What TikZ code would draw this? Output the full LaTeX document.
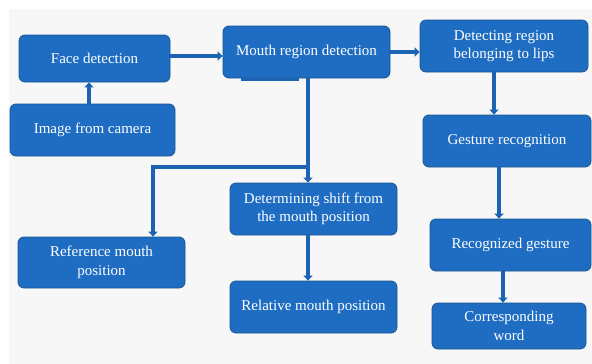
\documentclass[tikz,border=0pt]{standalone}
\usepackage{fontspec}
\setmainfont{Liberation Serif}
\usetikzlibrary{arrows.meta}
\definecolor{boxfill}{HTML}{1E6DC2}
\definecolor{boxline}{HTML}{1A558F}
\definecolor{arrowblue}{HTML}{1B64B3}
\definecolor{paper}{HTML}{F7F7F7}
\begin{document}
\begin{tikzpicture}[x=1pt,y=-1pt,
  stepbox/.style={draw=boxline, line width=0.8pt, fill=boxfill, rounded corners=6pt,
    text=white, align=center, inner sep=2pt,
    font=\fontsize{15}{18.5}\selectfont},
  flow/.style={draw=arrowblue, line width=3.6pt,
    -{Triangle[width=9pt,length=5pt]}}]
  % page and paper background
  \useasboundingbox (0,0) rectangle (592,364);
  \fill[white] (0,0) rectangle (592,364);
  \fill[paper] (9,9) rectangle (592,364);

  % process boxes
  \node[stepbox, minimum width=151pt, minimum height=47pt] (face) at (94.5,58.5) {Face detection};
  \node[stepbox, minimum width=165pt, minimum height=52pt] (cam) at (92.5,130) {Image from camera};
  \node[stepbox, minimum width=167pt, minimum height=52pt] (mouth) at (306.5,52) {Mouth region detection};
  \node[stepbox, minimum width=168pt, minimum height=52pt] (lips) at (504,46) {Detecting region\\belonging to lips};
  \node[stepbox, minimum width=168pt, minimum height=52pt] (gest) at (507,141) {Gesture recognition};
  \node[stepbox, minimum width=167pt, minimum height=52pt] (det) at (313.5,209) {Determining shift from\\the mouth position};
  \node[stepbox, minimum width=167pt, minimum height=51pt] (ref) at (101.5,262.5) {Reference mouth\\position};
  \node[stepbox, minimum width=167pt, minimum height=52pt] (rel) at (313.5,307) {Relative mouth position};
  \node[stepbox, minimum width=161pt, minimum height=52pt] (recog) at (510.5,245) {Recognized gesture};
  \node[stepbox, minimum width=154pt, minimum height=46pt] (word) at (509,326) {Corresponding\\word};

  % guide coordinates for the connectors
  \coordinate (camx) at (89,0);
  \coordinate (rowa) at (0,56);
  \coordinate (mx) at (308,0);
  \coordinate (fork) at (308,167);
  \coordinate (refx) at (153,0);
  \coordinate (lipsx) at (494,0);
  \coordinate (gestx) at (499,0);
  \coordinate (recogx) at (503,0);

  % edge line under the mouth box
  \draw[arrowblue, line width=2.2pt] (241,79.5) -- (299,79.5);

  % connectors
  \draw[flow] (cam.north -| camx) -- (face.south -| camx);
  \draw[flow] (face.east |- rowa) -- (mouth.west |- rowa);
  \draw[flow] (mouth.east) -- (lips.west |- mouth.east);
  \draw[flow] ([yshift=1.5pt]mouth.south -| mx) -- (det.north -| mx);
  \draw[flow] (fork) -| (ref.north -| refx);
  \draw[flow] (det.south -| mx) -- (rel.north -| mx);
  \draw[flow] (lips.south -| lipsx) -- (gest.north -| lipsx);
  \draw[flow] (gest.south -| gestx) -- (recog.north -| gestx);
  \draw[flow] (recog.south -| recogx) -- (word.north -| recogx);
\end{tikzpicture}
\end{document}
